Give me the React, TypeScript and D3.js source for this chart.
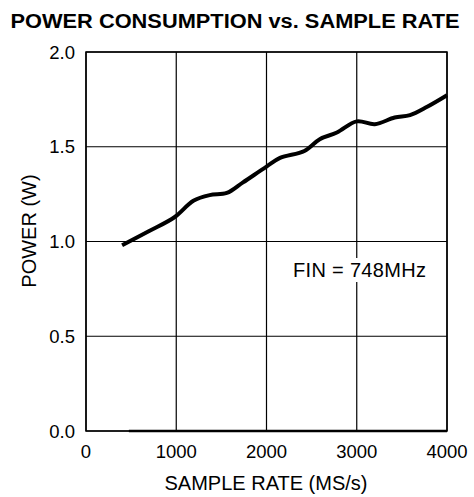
import React from 'react';
import * as d3 from 'd3';

// sample rate (MS/s) and power (W)
const sampleRate = [400, 700, 980, 1190, 1370, 1560, 1740, 2000, 2150, 2420, 2590, 2780, 3000, 3200, 3420, 3590, 3780, 4000];
const power = [0.98, 1.055, 1.128, 1.215, 1.245, 1.256, 1.312, 1.395, 1.441, 1.478, 1.54, 1.575, 1.634, 1.619, 1.654, 1.667, 1.711, 1.772];

// short trace lying on the zero line
const zeroTraceX = [475, 4000];
const zeroTraceY = [0, 0];

const xTicks = [0, 1000, 2000, 3000, 4000];
const yTicks = [0, 0.5, 1.0, 1.5, 2.0];

const title = 'POWER CONSUMPTION vs. SAMPLE RATE';
const xTitle = 'SAMPLE RATE (MS/s)';
const yTitle = 'POWER (W)';
const note = 'FIN = 748MHz';

const width = 474;
const height = 497;
const margin = { top: 52, right: 27, bottom: 66, left: 86 };
const font = '"Liberation Sans", Arial, sans-serif';

export default function App() {
  const x = d3.scaleLinear()
    .domain([0, 4000])
    .range([margin.left, width - margin.right]);
  const y = d3.scaleLinear()
    .domain([0, 2])
    .range([height - margin.bottom, margin.top]);

  const line = d3.line<number>()
    .x((d, i) => x(sampleRate[i]))
    .y(d => y(d))
    .curve(d3.curveCatmullRom);

  const zeroLine = d3.line<number>()
    .x((d, i) => x(zeroTraceX[i]))
    .y(d => y(d));

  return (
    <svg width={width} height={height} style={{ position: 'absolute', left: 0, top: 0, background: '#fff' }}>
      <text x={235} y={28} fontFamily={font} fontWeight="bold" fontSize={20}
        textAnchor="middle" textLength={449} lengthAdjust="spacingAndGlyphs">{title}</text>

      {/* grid */}
      {xTicks.map(t => (
        <line key={'gx' + t} x1={x(t)} x2={x(t)} y1={y(0)} y2={y(2)} stroke="#000" strokeWidth={1.2} />
      ))}
      {yTicks.map(t => (
        <line key={'gy' + t} x1={x(0)} x2={x(4000)} y1={y(t)} y2={y(t)} stroke="#000" strokeWidth={1.2} />
      ))}
      <rect x={x(0)} y={y(2)} width={x(4000) - x(0)} height={y(0) - y(2)}
        fill="none" stroke="#000" strokeWidth={1.5} />

      {/* tick labels */}
      {xTicks.map(t => (
        <text key={'tx' + t} x={x(t)} y={y(0) + 27} fontFamily={font} fontSize={18.5}
          textAnchor="middle">{t}</text>
      ))}
      {yTicks.map(t => (
        <text key={'ty' + t} x={75} y={y(t) + 6.5} fontFamily={font} fontSize={18.5}
          textAnchor="end">{d3.format('.1f')(t)}</text>
      ))}

      <text x={266} y={490} fontFamily={font} fontSize={20} textAnchor="middle">{xTitle}</text>
      <text transform={`translate(36,231) rotate(-90)`} fontFamily={font} fontSize={20}
        textAnchor="middle">{yTitle}</text>

      <rect x={290} y={258} width={140} height={24} fill="#fff" />
      <text x={293} y={277} fontFamily={font} fontSize={20} textLength={133}>{note}</text>

      <path d={zeroLine(zeroTraceY) || ''} fill="none" stroke="#000" strokeWidth={2.5} />
      <path d={line(power) || ''} fill="none" stroke="#000" strokeWidth={4} strokeLinejoin="round" />
    </svg>
  );
}
